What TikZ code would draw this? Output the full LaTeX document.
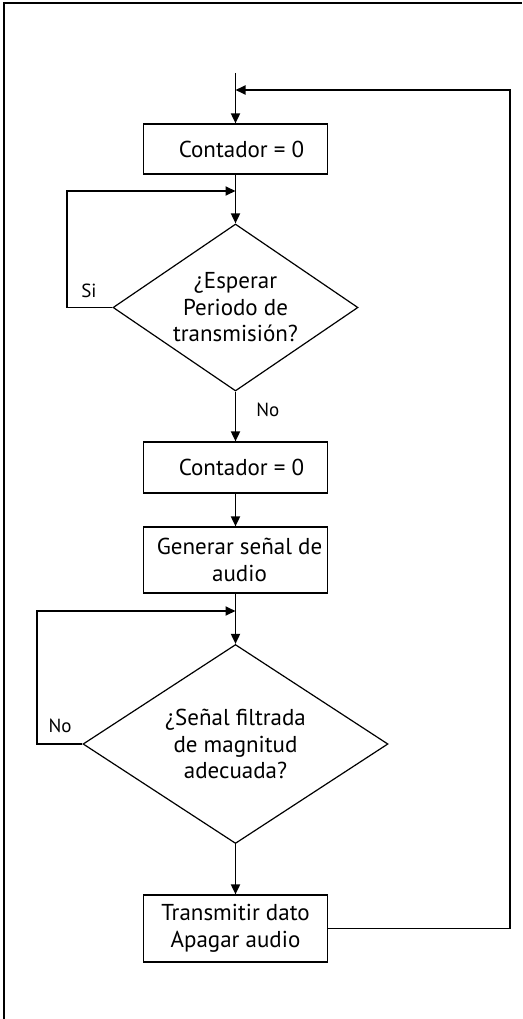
\documentclass[tikz,border=0pt]{standalone}
\usepackage{fontspec}
\setmainfont{PT Sans}
\usetikzlibrary{shapes.geometric,arrows.meta}
\begin{document}
\begin{tikzpicture}[x=1pt,y=-1pt,
  box/.style={draw,line width=1.2pt,minimum width=183.5pt,inner sep=0pt,align=center,
     font=\fontsize{23}{26.5}\selectfont},
  dec/.style={draw,line width=1.2pt,diamond,inner sep=0pt,align=center,
     font=\fontsize{23}{26.5}\selectfont},
  conn/.style={line width=1.8pt,-{Triangle[length=10pt,width=9pt]}},
  lbl/.style={font=\fontsize{19}{20}\selectfont,inner sep=0pt}]
\useasboundingbox (0,0) rectangle (522,1019);
\draw[line width=1.5pt] (4,1019) -- (4,3) -- (522,3);

\coordinate (start) at (235.5,73);
\node[box,minimum height=50pt] (b1) at (235.5,149) {\hspace*{12pt}Contador = 0};
\node[dec,aspect=1.467,minimum width=245pt,minimum height=167pt] (d1) at (235.5,307.5)
  {¿Esperar\\Periodo de\\transmisión?};
\node[box,minimum height=51pt] (b2) at (235.5,467.5) {\hspace*{12pt}Contador = 0};
\node[box,minimum height=66pt] (b3) at (235.5,560) {\hspace*{8pt}Generar señal de\\\hspace*{8pt}audio};
\node[dec,aspect=1.53,minimum width=305pt,minimum height=199pt] (d2) at (235.5,744)
  {¿Señal filtrada\\de magnitud\\adecuada?};
\node[box,minimum height=67pt] (b4) at (235.5,928.5) {Transmitir dato\\Apagar audio};

\coordinate (j1) at (235.5,90);
\coordinate (j2) at (235.5,191);
\coordinate (j3) at (235.5,611);
\coordinate (r1) at (510,928.5);
\coordinate (r2) at (510,90);
\coordinate (s1) at (67,307.5);
\coordinate (s2) at (67,191);
\coordinate (n1) at (37,744);
\coordinate (n2) at (37,611);

\draw[conn] (start) -- (b1.north);
\draw[conn] (b1.south) -- (d1.north);
\draw[conn] (d1.south) -- node[lbl,right=20pt,pos=0.37]{No} (b2.north);
\draw[conn] (b2.south) -- (b3.north);
\draw[conn] (b3.south) -- (d2.north);
\draw[conn] (d2.south) -- (b4.north);

\draw[conn] (b4.east) -- (r1) -- (r2) -- (j1);
\draw[conn] (d1.west) -- (s1) -- (s2) -- (j2);
\draw[conn] (d2.west) -- (n1) -- (n2) -- (j3);

\node[lbl] (si) at (89,291) {Si};
\node[lbl] (no2) at (60,726) {No};
\end{tikzpicture}
\end{document}
